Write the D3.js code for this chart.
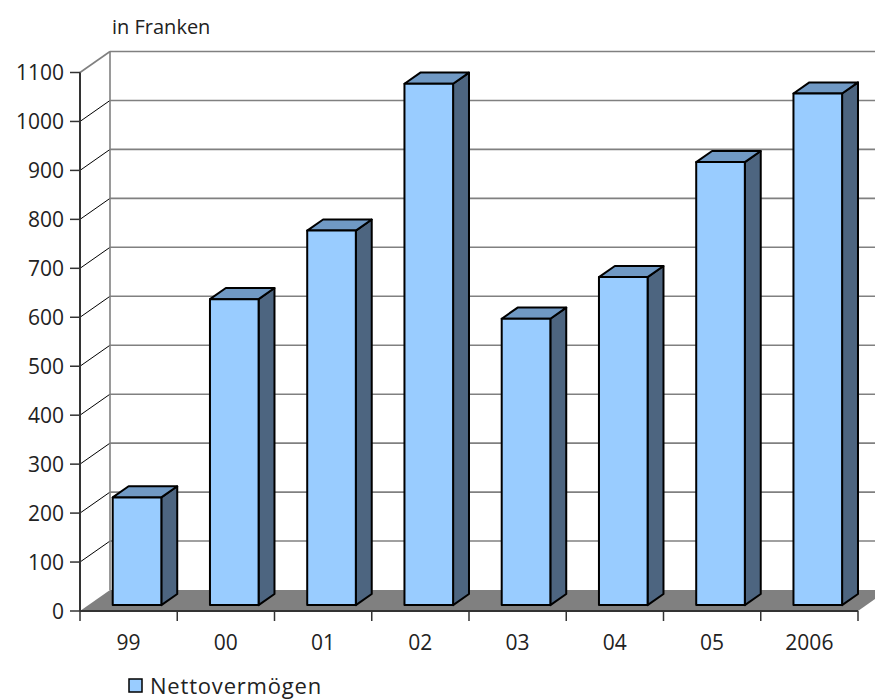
<!DOCTYPE html>
<html>
<head>
<meta charset="utf-8">
<script src="https://cdn.jsdelivr.net/npm/d3@7"></script>
<style>
  body { margin: 0; background: #fff; }
  svg text { font-family: "Open Sans", sans-serif; fill: #222; }
</style>
</head>
<body>
<div id="chart"></div>
<script>
const categories = ['99', '00', '01', '02', '03', '04', '05', '2006'];
const values = [220, 625, 765, 1065, 585, 670, 905, 1045];
const yTicks = [0, 100, 200, 300, 400, 500, 600, 700, 800, 900, 1000, 1100];
const seriesName = 'Nettovermögen';
const unitLabel = 'in Franken';

const width = 875, height = 700;
// depth of the 3d box (back wall offset)
const DX = 30, DY = -21;
const barFront = 0.28, barBack = 0.81;

const svg = d3.select('#chart').append('svg')
    .attr('width', width)
    .attr('height', height);

const x = d3.scaleBand()
    .domain(categories)
    .range([80, 858]);

const y = d3.scaleLinear()
    .domain([0, 1100])
    .range([611, 72.5]);

// back wall grid
const g = svg.append('g');
g.selectAll('line.grid')
    .data(yTicks.filter(d => d > 0))
    .join('line')
    .attr('x1', 80 + DX).attr('x2', 858 + DX + 40)
    .attr('y1', d => y(d) + DY).attr('y2', d => y(d) + DY)
    .attr('stroke', '#808080')
    .attr('stroke-width', 1.6);

// diagonals from front axis to back wall
g.selectAll('line.diag')
    .data(yTicks.filter(d => d > 0))
    .join('line')
    .attr('x1', 80).attr('y1', d => y(d))
    .attr('x2', 80 + DX).attr('y2', d => y(d) + DY)
    .attr('stroke', d => d === 1100 ? '#808080' : '#000')
    .attr('stroke-width', d => d === 1100 ? 1.6 : 1);

// back wall left edge
g.append('line')
    .attr('x1', 80 + DX).attr('x2', 80 + DX)
    .attr('y1', y(0) + DY).attr('y2', y(1100) + DY)
    .attr('stroke', '#808080')
    .attr('stroke-width', 1.6);

// floor
g.append('polygon')
    .attr('points', [
        [80, y(0)], [858, y(0)], [858 + DX, y(0) + DY], [80 + DX, y(0) + DY]
    ].map(p => p.join(',')).join(' '))
    .attr('fill', '#808080');

// front y axis
g.append('line')
    .attr('x1', 80).attr('x2', 80)
    .attr('y1', y(0)).attr('y2', y(1100))
    .attr('stroke', '#333')
    .attr('stroke-width', 2);

g.selectAll('line.ytick')
    .data(yTicks)
    .join('line')
    .attr('x1', 70).attr('x2', 80)
    .attr('y1', d => y(d)).attr('y2', d => y(d))
    .attr('stroke', '#333')
    .attr('stroke-width', 1.5);

g.selectAll('text.ylab')
    .data(yTicks)
    .join('text')
    .attr('x', 64)
    .attr('y', d => y(d))
    .attr('dy', '0.36em')
    .attr('text-anchor', 'end')
    .attr('font-size', 21)
    .text(d => d);

// x axis
g.append('line')
    .attr('x1', 80).attr('x2', 858)
    .attr('y1', y(0)).attr('y2', y(0))
    .attr('stroke', '#333')
    .attr('stroke-width', 2);

const xEdges = categories.map(c => x(c)).concat([x.range()[1]]);
g.selectAll('line.xtick')
    .data(xEdges)
    .join('line')
    .attr('x1', d => d).attr('x2', d => d)
    .attr('y1', y(0)).attr('y2', y(0) + 10)
    .attr('stroke', '#333')
    .attr('stroke-width', 1.5);

g.selectAll('text.xlab')
    .data(categories)
    .join('text')
    .attr('x', d => x(d) + x.bandwidth() / 2)
    .attr('y', 650)
    .attr('text-anchor', 'middle')
    .attr('font-size', 21)
    .text(d => d);

// bars
const bw = x.bandwidth() * 0.5;
const fdx = DX * barFront, fdy = DY * barFront;
const bdx = DX * (barBack - barFront), bdy = DY * (barBack - barFront);

const bars = svg.append('g')
    .selectAll('g')
    .data(categories.map((c, i) => ({ c, v: values[i] })))
    .join('g');

bars.each(function (d) {
    const el = d3.select(this);
    const fx = x(d.c) + x.bandwidth() / 4 + fdx;
    const yt = y(d.v) + fdy;
    const yb = y(0) + fdy;
    const pts = a => a.map(p => p.join(',')).join(' ');
    el.append('polygon')
        .attr('points', pts([[fx + bw, yt], [fx + bw + bdx, yt + bdy], [fx + bw + bdx, yb + bdy], [fx + bw, yb]]))
        .attr('fill', '#4d6580');
    el.append('polygon')
        .attr('points', pts([[fx, yt], [fx + bw, yt], [fx + bw + bdx, yt + bdy], [fx + bdx, yt + bdy]]))
        .attr('fill', '#7099c4');
    el.append('rect')
        .attr('x', fx).attr('y', yt)
        .attr('width', bw).attr('height', yb - yt)
        .attr('fill', '#99ccff');
    el.selectAll('polygon, rect')
        .attr('stroke', '#000')
        .attr('stroke-width', 2)
        .attr('stroke-linejoin', 'round');
});

// unit label
svg.append('text')
    .attr('x', 112)
    .attr('y', 34)
    .attr('font-size', 20)
    .text(unitLabel);

// legend
svg.append('rect')
    .attr('x', 129).attr('y', 679)
    .attr('width', 13).attr('height', 13)
    .attr('fill', '#99ccff')
    .attr('stroke', '#000')
    .attr('stroke-width', 1.5);
svg.append('text')
    .attr('x', 150)
    .attr('y', 694)
    .attr('font-size', 22)
    .attr('letter-spacing', 0.8)
    .text(seriesName);
</script>
</body>
</html>
